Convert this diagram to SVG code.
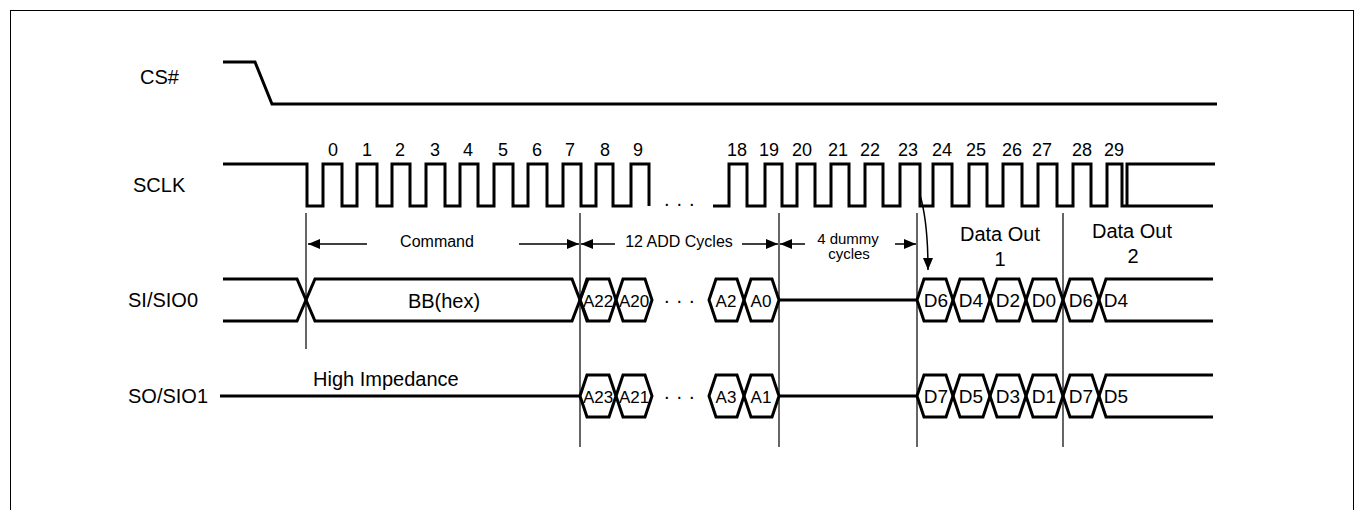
<svg xmlns="http://www.w3.org/2000/svg" width="1364" height="510" viewBox="0 0 1364 510">
<style>
.sig{fill:none;stroke:#000;stroke-width:3;stroke-linejoin:miter}
.guide{fill:none;stroke:#333;stroke-width:1.5}
.arr{fill:none;stroke:#000;stroke-width:1.5}
.lbl{font-family:"Liberation Sans",Arial,sans-serif;font-size:20px;fill:#000}
.num{font-family:"Liberation Sans",Arial,sans-serif;font-size:18px;fill:#000;text-anchor:middle}
.sm{font-family:"Liberation Sans",Arial,sans-serif;font-size:16px;fill:#000;text-anchor:middle}
.xs{font-family:"Liberation Sans",Arial,sans-serif;font-size:15px;fill:#000;text-anchor:middle}
.hx{font-family:"Liberation Sans",Arial,sans-serif;font-size:17px;fill:#000;text-anchor:middle}
.dx{font-family:"Liberation Sans",Arial,sans-serif;font-size:19px;fill:#000;text-anchor:middle}
.dots{font-family:"Liberation Sans",Arial,sans-serif;font-size:20px;fill:#000;letter-spacing:7px}
</style>
<defs>
<marker id="ah" viewBox="0 0 12 10" refX="12" refY="5" markerWidth="12" markerHeight="10" markerUnits="userSpaceOnUse" orient="auto">
<path d="M0,0 L12,5 L0,10 Z" fill="#000"/>
</marker>
</defs>
<rect x="10.5" y="10.5" width="1343" height="520" fill="none" stroke="#000" stroke-width="1"/>

<g id="labels">
<text class="lbl" x="140" y="84">CS#</text>
<text class="lbl" x="133" y="192">SCLK</text>
<text class="lbl" x="128" y="307">SI/SIO0</text>
<text class="lbl" x="128" y="403">SO/SIO1</text>
</g>

<g id="cs">
<path class="sig" d="M223,62 H255 L272,104 H1217"/>
</g>

<g id="sclk">
<path class="sig" d="M223,164 H307 V206 H323 V164 H342 V206 H357 V164 H377 V206 H392 V164 H410 V206 H426 V164 H445 V206 H460 V164 H478 V206 H494 V164 H513 V206 H528 V164 H547 V206 H563 V164 H581 V206 H596 V164 H613 V206 H631 V164 H649 V206"/>
<path class="sig" d="M713,206 H729 V164 H747 V206 H765 V164 H782 V206 H797 V164 H815 V206 H831 V164 H849 V206 H865 V164 H883 V206 H900 V164 H920 V206 H933 V164 H952 V206 H969 V164 H987 V206 H1003 V164 H1022 V206 H1038 V164 H1057 V206 H1073 V164 H1091 V206 H1107 V164 H1122 V206 H1213"/>
<path class="sig" d="M1215,164 H1127 V206"/>
<text class="dots" x="664" y="206">...</text>
<g id="clknums">
<text class="num" x="333" y="156">0</text>
<text class="num" x="367" y="156">1</text>
<text class="num" x="400" y="156">2</text>
<text class="num" x="435" y="156">3</text>
<text class="num" x="468" y="156">4</text>
<text class="num" x="503" y="156">5</text>
<text class="num" x="537" y="156">6</text>
<text class="num" x="570" y="156">7</text>
<text class="num" x="605" y="156">8</text>
<text class="num" x="638" y="156">9</text>
<text class="num" x="737" y="156">18</text>
<text class="num" x="769" y="156">19</text>
<text class="num" x="802" y="156">20</text>
<text class="num" x="838" y="156">21</text>
<text class="num" x="870" y="156">22</text>
<text class="num" x="908" y="156">23</text>
<text class="num" x="942" y="156">24</text>
<text class="num" x="976" y="156">25</text>
<text class="num" x="1012" y="156">26</text>
<text class="num" x="1042" y="156">27</text>
<text class="num" x="1082" y="156">28</text>
<text class="num" x="1114" y="156">29</text>
</g>
</g>

<g id="guides">
<line class="guide" x1="306" y1="213" x2="306" y2="349"/>
<line class="guide" x1="580" y1="213" x2="580" y2="447"/>
<line class="guide" x1="779" y1="213" x2="779" y2="447"/>
<line class="guide" x1="917" y1="213" x2="917" y2="447"/>
<line class="guide" x1="1063" y1="213" x2="1063" y2="447"/>
</g>

<g id="connectors">
<line class="arr" x1="367" y1="244" x2="308" y2="244" marker-end="url(#ah)"/>
<line class="arr" x1="519" y1="244" x2="579" y2="244" marker-end="url(#ah)"/>
<line class="arr" x1="615" y1="244" x2="581" y2="244" marker-end="url(#ah)"/>
<line class="arr" x1="742" y1="244" x2="778" y2="244" marker-end="url(#ah)"/>
<line class="arr" x1="805" y1="244" x2="780" y2="244" marker-end="url(#ah)"/>
<line class="arr" x1="895" y1="244" x2="916" y2="244" marker-end="url(#ah)"/>
<path class="arr" d="M920,195 Q928,222 928,270" marker-end="url(#ah)"/>
</g>

<g id="phases">
<text class="sm" x="437" y="247">Command</text>
<text class="sm" x="679" y="247">12 ADD Cycles</text>
<text class="xs" x="848" y="244">4 dummy</text>
<text class="xs" x="849" y="259">cycles</text>
<text class="lbl" x="1000" y="241" text-anchor="middle">Data Out</text>
<text class="lbl" x="1000" y="266" text-anchor="middle">1</text>
<text class="lbl" x="1132" y="238" text-anchor="middle">Data Out</text>
<text class="lbl" x="1133" y="263" text-anchor="middle">2</text>
</g>

<g id="si">
<path class="sig" d="M223,279 H297 L315,321 H572 L588,279"/>
<path class="sig" d="M223,321 H297 L315,279 H572 L588,321"/>
<text class="lbl" x="444" y="308" text-anchor="middle">BB(hex)</text>
<path class="sig" d="M580,300 L587,279 H609 L616,300 L609,321 H587 Z"/>
<path class="sig" d="M616,300 L623,279 H645 L652,300 L645,321 H623 Z"/>
<path class="sig" d="M709,300 L716,279 H737 L744,300 L737,321 H716 Z"/>
<path class="sig" d="M744,300 L751,279 H772 L779,300 L772,321 H751 Z"/>
<path class="sig" d="M779,300 H917"/>
<path class="sig" d="M917,300 L924,279 H946 L953,300 L946,321 H924 Z"/>
<path class="sig" d="M953,300 L960,279 H983 L990,300 L983,321 H960 Z"/>
<path class="sig" d="M990,300 L997,279 H1019 L1026,300 L1019,321 H997 Z"/>
<path class="sig" d="M1026,300 L1033,279 H1056 L1063,300 L1056,321 H1033 Z"/>
<path class="sig" d="M1063,300 L1070,279 H1092 L1099,300 L1092,321 H1070 Z"/>
<path class="sig" d="M1099,300 L1106,279 H1213 M1099,300 L1106,321 H1213"/>
<text class="dots" x="664" y="303">...</text>
<text class="hx" x="598" y="307">A22</text>
<text class="hx" x="634" y="307">A20</text>
<text class="hx" x="726" y="307">A2</text>
<text class="hx" x="761" y="307">A0</text>
<text class="dx" x="936" y="307">D6</text>
<text class="dx" x="971" y="307">D4</text>
<text class="dx" x="1008" y="307">D2</text>
<text class="dx" x="1044" y="307">D0</text>
<text class="dx" x="1081" y="307">D6</text>
<text class="dx" x="1116" y="307">D4</text>
</g>

<g id="so">
<path class="sig" d="M220,396 H580"/>
<text class="lbl" x="313" y="386">High Impedance</text>
<path class="sig" d="M580,396 L587,375 H609 L616,396 L609,417 H587 Z"/>
<path class="sig" d="M616,396 L623,375 H645 L652,396 L645,417 H623 Z"/>
<path class="sig" d="M709,396 L716,375 H737 L744,396 L737,417 H716 Z"/>
<path class="sig" d="M744,396 L751,375 H772 L779,396 L772,417 H751 Z"/>
<path class="sig" d="M779,396 H917"/>
<path class="sig" d="M917,396 L924,375 H946 L953,396 L946,417 H924 Z"/>
<path class="sig" d="M953,396 L960,375 H983 L990,396 L983,417 H960 Z"/>
<path class="sig" d="M990,396 L997,375 H1019 L1026,396 L1019,417 H997 Z"/>
<path class="sig" d="M1026,396 L1033,375 H1056 L1063,396 L1056,417 H1033 Z"/>
<path class="sig" d="M1063,396 L1070,375 H1092 L1099,396 L1092,417 H1070 Z"/>
<path class="sig" d="M1099,396 L1106,375 H1213 M1099,396 L1106,417 H1213"/>
<text class="dots" x="664" y="399">...</text>
<text class="hx" x="598" y="403">A23</text>
<text class="hx" x="634" y="403">A21</text>
<text class="hx" x="726" y="403">A3</text>
<text class="hx" x="761" y="403">A1</text>
<text class="dx" x="936" y="403">D7</text>
<text class="dx" x="971" y="403">D5</text>
<text class="dx" x="1008" y="403">D3</text>
<text class="dx" x="1044" y="403">D1</text>
<text class="dx" x="1081" y="403">D7</text>
<text class="dx" x="1116" y="403">D5</text>
</g>
</svg>
